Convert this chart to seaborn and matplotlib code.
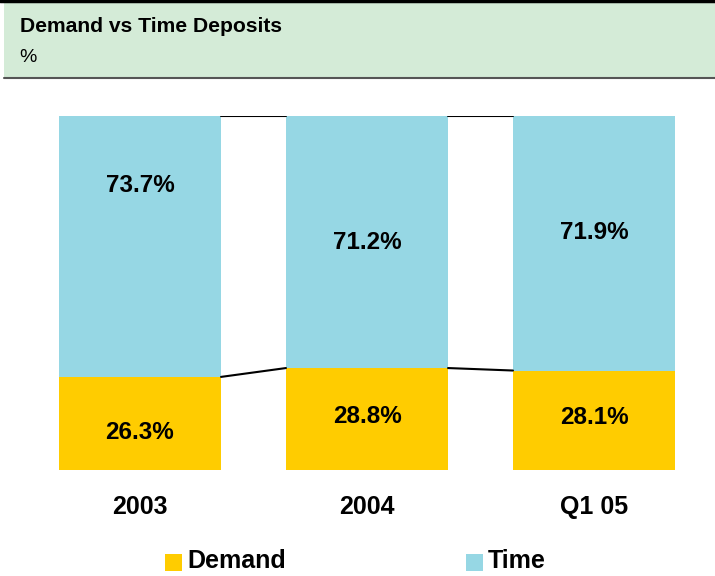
import matplotlib
matplotlib.use("Agg")
import matplotlib.pyplot as plt
import seaborn as sns
from matplotlib.patches import Rectangle

periods = ["2003", "2004", "Q1 05"]
demand = [26.3, 28.8, 28.1]
time_dep = [73.7, 71.2, 71.9]

# where the labels sit inside each segment (value units)
time_label_y = [80.5, 64.4, 67.2]
demand_label_y = [10.7, 15.0, 14.7]

demand_color = "#FFCC00"
time_color = "#96D7E4"

sns.set_style("white")
plt.rcParams["font.family"] = ["Liberation Sans", "DejaVu Sans"]
plt.rcParams["text.color"] = "black"

fig = plt.figure(figsize=(7.15, 5.76), dpi=100)

# header band
fig.patches.append(Rectangle((4 / 715, 1 - 78 / 576), 711 / 715, 75 / 576,
                             transform=fig.transFigure, facecolor="#D4EBD7",
                             edgecolor="none", zorder=0))
fig.lines.append(plt.Line2D([0, 1], [1 - 1 / 576, 1 - 1 / 576], transform=fig.transFigure,
                            color="black", lw=2.5))
fig.lines.append(plt.Line2D([4 / 715, 1], [1 - 78 / 576, 1 - 78 / 576], transform=fig.transFigure,
                            color="#555555", lw=1.5))
fig.text(20 / 715, 1 - 26 / 576, "Demand vs Time Deposits", fontsize=15.2, fontweight="bold",
         va="center", ha="left")
fig.text(19 / 715, 1 - 58 / 576, "%", fontsize=14, va="center", ha="left")

ax = fig.add_axes([0, 1 - 470 / 576, 1, 354 / 576])
totals = [d + t for d, t in zip(demand, time_dep)]
bw = 0.714
sns.barplot(x=periods, y=totals, color=time_color, width=bw, saturation=1,
            linewidth=0, ax=ax)
sns.barplot(x=periods, y=demand, color=demand_color, width=bw, saturation=1,
            linewidth=0, ax=ax)

ax.set_xlim((0 - 140) / 227, (715 - 140) / 227)
ax.set_ylim(0, 100)
ax.axis("off")

# connector lines between bars
for i in range(len(periods) - 1):
    x0 = i + bw / 2
    x1 = i + 1 - bw / 2
    ax.plot([x0, x1], [totals[i], totals[i + 1]], color="black", lw=1.5)
    ax.plot([x0, x1], [demand[i], demand[i + 1]], color="black", lw=1.5)

for i, p in enumerate(periods):
    ax.text(i, time_label_y[i], f"{time_dep[i]:.1f}%", ha="center", va="center",
            fontsize=17.5, fontweight="bold")
    ax.text(i, demand_label_y[i], f"{demand[i]:.1f}%", ha="center", va="center",
            fontsize=17.5, fontweight="bold")
    ax.text(i, -10.5, p, ha="center", va="center", fontsize=18, fontweight="bold",
            clip_on=False)

# legend
for xs, label, col in [(165, "Demand", demand_color), (466, "Time", time_color)]:
    fig.patches.append(Rectangle((xs / 715, 1 - 571 / 576), 17 / 715, 17 / 576,
                                 transform=fig.transFigure, facecolor=col, edgecolor="none"))
    fig.text((xs + 22) / 715, 1 - 561 / 576, label, fontsize=18, fontweight="bold",
             va="center", ha="left")

fig.savefig("out.png", dpi=100)
